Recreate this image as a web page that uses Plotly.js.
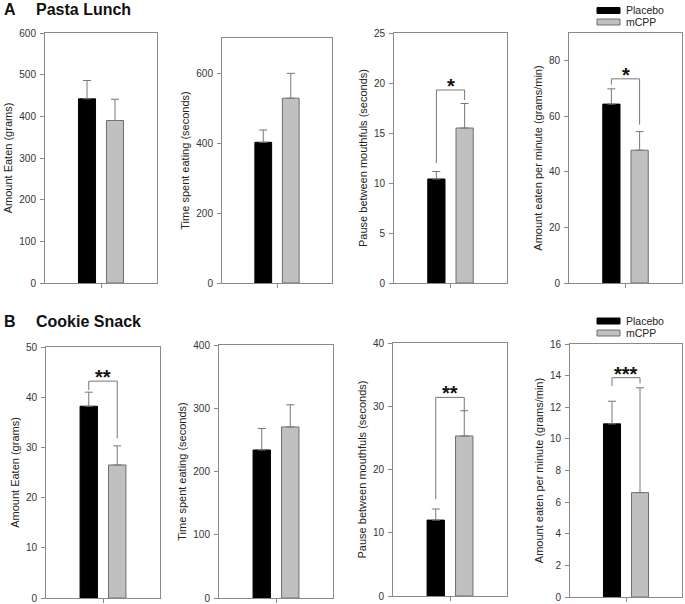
<!DOCTYPE html>
<html>
<head>
<meta charset="utf-8">
<script src="https://cdn.plot.ly/plotly-3.0.1.min.js"></script>
<style>html,body{margin:0;padding:0;background:#fff;}#chart{width:685px;height:604px;}</style>
</head>
<body>
<div id="chart"></div>
<script>
// ---------- data ----------
const seriesNames = ['Placebo', 'mCPP'];
const yTitles = ['Amount Eaten (grams)', 'Time spent eating (seconds)', 'Pause between mouthfuls (seconds)', 'Amount eaten per minute (grams/min)'];
const category = [''];

// A: Pasta Lunch
const placeboA    = [442, 402, 10.4, 64.4];
const placeboErrA = [44, 35, 0.75, 5.5];
const mcppA       = [390, 528, 15.5, 47.8];
const mcppErrA    = [51, 71, 2.45, 6.7];
const yMaxA   = [600, 700, 25, 90];
const yDtickA = [100, 200, 5, 20];
// significance brackets: panel, bracket y, left leg end, right leg end, label
const sigPanelA = [2, 3];
const sigYA     = [19.3, 73.5];
const sigLeftA  = [12.0, 71.4];
const sigRightA = [18.3, 57.0];
const sigLabelA = ['*', '*'];

// B: Cookie Snack
const placeboB    = [38.2, 234, 12.0, 10.95];
const placeboErrB = [2.8, 34, 1.75, 1.43];
const mcppB       = [26.5, 270.5, 25.3, 6.6];
const mcppErrB    = [3.8, 35, 4.0, 6.63];
const yMaxB   = [50, 400, 40, 16];
const yDtickB = [10, 100, 10, 2];
const sigPanelB = [0, 2, 3];
const sigYB     = [43.2, 31.4, 13.87];
const sigLeftB  = [41.4, 15.3, 13.34];
const sigRightB = [31.8, 29.1, 13.5];
const sigLabelB = ['**', '**', '***'];

// ---------- layout geometry (pixels) ----------
const W = 685, H = 604;
const boxes = [
  [45, 157, 33, 283], [222, 332, 38, 283], [394, 507, 33, 283], [569, 682, 33, 283],
  [46, 160, 347, 598], [219, 333, 345, 598], [393, 507, 343, 596], [570, 682, 344, 597]
];
const px = v => v / W;
const py = v => 1 - v / H;

const FONT = 'Arial, "Liberation Sans", sans-serif';
const axisGrey = '#8a8a8a';
const barGrey = '#c0c0c0';

const traces = [];
const layout = {
  width: W, height: H,
  margin: {l: 0, r: 0, t: 0, b: 0},
  paper_bgcolor: '#fff', plot_bgcolor: '#fff',
  showlegend: false,
  barmode: 'group', bargap: 0.5, bargroupgap: 0.39,
  font: {family: FONT, color: '#222'},
  shapes: [], annotations: []
};

function addPanel(idx, pla, plaErr, mc, mcErr, ymax, dtick, title) {
  const n = idx + 1;
  const xa = n === 1 ? 'x' : 'x' + n;
  const ya = n === 1 ? 'y' : 'y' + n;
  const errStyle = {type: 'data', symmetric: false, color: '#777', thickness: 1, width: 4};
  traces.push({
    type: 'bar', name: seriesNames[0], x: category, y: [pla], xaxis: xa, yaxis: ya,
    marker: {color: '#000', line: {color: '#000', width: 1}},
    error_y: Object.assign({array: [plaErr], arrayminus: [0]}, errStyle),
    hoverinfo: 'y'
  });
  traces.push({
    type: 'bar', name: seriesNames[1], x: category, y: [mc], xaxis: xa, yaxis: ya,
    marker: {color: barGrey, line: {color: '#6e6e6e', width: 1}},
    error_y: Object.assign({array: [mcErr], arrayminus: [0]}, errStyle),
    hoverinfo: 'y'
  });
  const b = boxes[idx];
  layout['xaxis' + (n === 1 ? '' : n)] = {
    domain: [px(b[0]), px(b[1])], anchor: ya, type: 'category', range: [-0.5, 0.5],
    showline: true, mirror: true, linecolor: axisGrey, linewidth: 1,
    ticks: 'outside', ticklen: 4, tickcolor: axisGrey, showticklabels: false,
    showgrid: false, zeroline: false, fixedrange: true
  };
  layout['yaxis' + (n === 1 ? '' : n)] = {
    domain: [py(b[3]), py(b[2])], anchor: xa, range: [0, ymax], dtick: dtick, tick0: 0,
    showline: true, mirror: true, linecolor: axisGrey, linewidth: 1,
    ticks: 'outside', ticklen: 4, tickcolor: axisGrey, ticklabelstandoff: 2,
    tickfont: {size: 10, color: '#333', family: FONT},
    showgrid: false, zeroline: false, fixedrange: true,
    title: {text: title, font: {size: 11, color: '#222', family: FONT}, standoff: 4}
  };
}

function addSig(panel, yb, yl, yr, label) {
  const n = panel + 1;
  const xa = n === 1 ? 'x' : 'x' + n;
  const ya = n === 1 ? 'y' : 'y' + n;
  const line = {color: '#777', width: 1};
  layout.shapes.push({type: 'line', xref: xa, yref: ya, x0: -0.125, x1: -0.125, y0: yl, y1: yb, line});
  layout.shapes.push({type: 'line', xref: xa, yref: ya, x0: -0.125, x1: 0.125, y0: yb, y1: yb, line});
  layout.shapes.push({type: 'line', xref: xa, yref: ya, x0: 0.125, x1: 0.125, y0: yb, y1: yr, line});
  layout.annotations.push({
    xref: xa, yref: ya, x: 0, y: yb, text: '<b>' + label + '</b>', showarrow: false,
    xanchor: 'center', yanchor: 'bottom', yshift: -9,
    font: {size: 20, color: '#111', family: FONT}
  });
}

for (let i = 0; i < 4; i++) {
  addPanel(i, placeboA[i], placeboErrA[i], mcppA[i], mcppErrA[i], yMaxA[i], yDtickA[i], yTitles[i]);
  addPanel(i + 4, placeboB[i], placeboErrB[i], mcppB[i], mcppErrB[i], yMaxB[i], yDtickB[i], yTitles[i]);
}
sigPanelA.forEach((p, k) => addSig(p, sigYA[k], sigLeftA[k], sigRightA[k], sigLabelA[k]));
sigPanelB.forEach((p, k) => addSig(p + 4, sigYB[k], sigLeftB[k], sigRightB[k], sigLabelB[k]));

// panel headings
function heading(letter, text, yc) {
  layout.annotations.push({xref: 'paper', yref: 'paper', x: px(2), y: py(yc), xanchor: 'left', yanchor: 'middle',
    text: '<b>' + letter + '</b>', showarrow: false, font: {size: 16, color: '#111', family: FONT}});
  layout.annotations.push({xref: 'paper', yref: 'paper', x: px(34), y: py(yc), xanchor: 'left', yanchor: 'middle',
    text: '<b>' + text + '</b>', showarrow: false, font: {size: 16, color: '#111', family: FONT}});
}
heading('A', 'Pasta Lunch', 9);
heading('B', 'Cookie Snack', 321);

// legends
function legendBlock(y1, y2) {
  const items = [[y1, '#000', '#000'], [y2, barGrey, '#6e6e6e']];
  items.forEach((it, k) => {
    layout.shapes.push({type: 'rect', xref: 'paper', yref: 'paper',
      x0: px(597), x1: px(620), y0: py(it[0] - 3), y1: py(it[0] + 3),
      fillcolor: it[1], line: {color: it[2], width: 1}});
    layout.annotations.push({xref: 'paper', yref: 'paper', x: px(624), y: py(it[0]), xanchor: 'left', yanchor: 'middle',
      text: seriesNames[k], showarrow: false, font: {size: 10.5, color: '#222', family: FONT}});
  });
}
legendBlock(10.5, 22);
legendBlock(321, 333);

Plotly.newPlot('chart', traces, layout, {displayModeBar: false, staticPlot: true});
</script>
</body>
</html>
